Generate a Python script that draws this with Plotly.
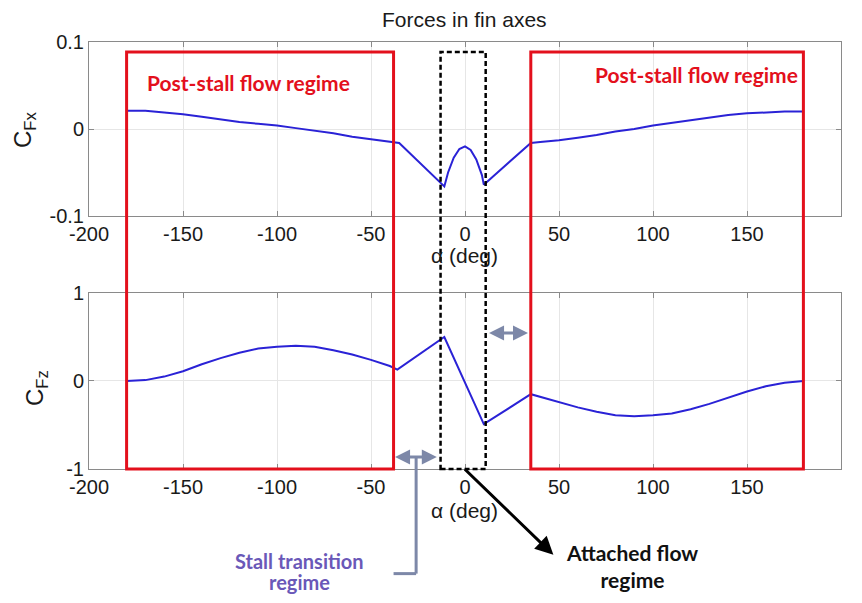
import plotly.graph_objects as go

# ---- data ----
alpha_fx = [-180, -170, -160, -150, -140, -130, -120, -110, -100, -90, -80, -70, -60, -50, -40, -35,
            -11, -9, -6, -3, 0, 3, 6, 9, 10,
            35, 40, 50, 60, 70, 80, 90, 100, 110, 120, 130, 140, 150, 160, 170, 180]
cfx = [0.021, 0.021, 0.019, 0.017, 0.014, 0.011, 0.008, 0.006, 0.004, 0.001, -0.002, -0.005, -0.009, -0.012, -0.015, -0.016,
       -0.066, -0.050, -0.033, -0.023, -0.020, -0.024, -0.035, -0.053, -0.064,
       -0.016, -0.015, -0.013, -0.010, -0.007, -0.003, 0.000, 0.004, 0.007, 0.010, 0.013, 0.016, 0.018, 0.019, 0.020, 0.020]

alpha_fz = [-180, -170, -160, -150, -140, -130, -120, -110, -100, -90, -80, -70, -60, -50, -40, -36,
            -11, 10,
            35, 40, 50, 60, 70, 80, 90, 100, 110, 120, 130, 140, 150, 160, 170, 180]
cfz = [0.0, 0.01, 0.05, 0.11, 0.19, 0.26, 0.32, 0.37, 0.39, 0.40, 0.39, 0.35, 0.30, 0.24, 0.17, 0.13,
       0.50, -0.49,
       -0.15, -0.18, -0.24, -0.30, -0.35, -0.39, -0.40, -0.39, -0.37, -0.32, -0.26, -0.19, -0.12, -0.06, -0.02, 0.0]

x_ticks = [-200, -150, -100, -50, 0, 50, 100, 150, 200]
x_tick_text = ["-200", "-150", "-100", "-50", "0", "50", "100", "150", "200"]
fx_ticks = [-0.1, 0, 0.1]
fx_tick_text = ["-0.1", "0", "0.1"]
fz_ticks = [-1, 0, 1]
fz_tick_text = ["-1", "0", "1"]

# regime boundaries (deg)
post_stall_left = (-180, -38)
post_stall_right = (35, 180)
attached = (-13, 11)

LINE_BLUE = "#2a22d6"
RED = "#e3101c"
ARROW_GRAY = "#7d88a8"
SANS = "Liberation Sans, Arial, sans-serif"
CAL = "Lato, Open Sans, sans-serif"
AX_FONT = dict(family=SANS, size=20, color="#1a1a1a")

fig = go.Figure()
fig.add_trace(go.Scatter(x=alpha_fx, y=cfx, mode="lines", line=dict(color=LINE_BLUE, width=2),
                         xaxis="x", yaxis="y", showlegend=False))
fig.add_trace(go.Scatter(x=alpha_fz, y=cfz, mode="lines", line=dict(color=LINE_BLUE, width=2),
                         xaxis="x2", yaxis="y2", showlegend=False))

axis_common = dict(showline=True, linecolor="#8a8a8a", linewidth=1, mirror="ticks",
                   ticks="inside", ticklen=5, tickcolor="#8a8a8a",
                   showgrid=True, gridcolor="#e6e6e6", gridwidth=1, zeroline=False,
                   tickfont=AX_FONT)

# the page body keeps its 8px margin: size the figure so the plot area lands where the reference has it
fig.update_layout(
    width=846, height=587,
    margin=dict(l=81, r=13, t=34, b=126),
    paper_bgcolor="white", plot_bgcolor="white",
    xaxis=dict(domain=[0, 1], anchor="y", range=[-200, 200], tickvals=x_ticks, ticktext=x_tick_text, **axis_common),
    yaxis=dict(domain=[0.5925, 1], anchor="x", range=[-0.1, 0.1], tickvals=fx_ticks, ticktext=fx_tick_text, **axis_common),
    xaxis2=dict(domain=[0, 1], anchor="y2", range=[-200, 200], tickvals=x_ticks, ticktext=x_tick_text, **axis_common),
    yaxis2=dict(domain=[0, 0.4122], anchor="x2", range=[-1, 1], tickvals=fz_ticks, ticktext=fz_tick_text, **axis_common),
)

shapes = []
box_top = 0.9766
for x0, x1 in (post_stall_left, post_stall_right):
    shapes.append(dict(type="rect", xref="x", yref="paper", x0=x0, x1=x1, y0=0, y1=box_top,
                       line=dict(color=RED, width=3)))
shapes.append(dict(type="rect", xref="x", yref="paper", x0=attached[0], x1=attached[1], y0=0, y1=box_top,
                   line=dict(color="black", width=2.5, dash="5px,3px")))
# bracket from stall arrow down to label
shapes.append(dict(type="line", xref="x2", yref="paper", x0=-26, x1=-26, y0=0.026, y1=-0.245,
                   line=dict(color=ARROW_GRAY, width=3)))
shapes.append(dict(type="line", xref="x2", yref="paper", x0=-26, x1=-38, y0=-0.245, y1=-0.245,
                   line=dict(color=ARROW_GRAY, width=3)))
fig.update_layout(shapes=shapes)

ann = []
ann.append(dict(text="Forces in fin axes", xref="paper", yref="paper", x=0.4987, y=1.0, yshift=23,
                xanchor="center", yanchor="middle",
                showarrow=False, font=dict(family=SANS, size=21, color="#1a1a1a")))
for yv, sh in ((0.5925, -39), (0.0, -41)):
    ann.append(dict(text="α (deg)", xref="paper", yref="paper", x=0.4987, y=yv, yshift=sh,
                    xanchor="center", yanchor="middle",
                    showarrow=False, font=dict(family=SANS, size=21, color="#1a1a1a")))
ann.append(dict(text="C<sub>Fx</sub>", xref="paper", yref="paper", x=-0.085, y=0.794, textangle=-90,
                xanchor="center", yanchor="middle",
                showarrow=False, font=dict(family=SANS, size=24, color="#1a1a1a")))
ann.append(dict(text="C<sub>Fz</sub>", xref="paper", yref="paper", x=-0.069, y=0.19, textangle=-90,
                xanchor="center", yanchor="middle",
                showarrow=False, font=dict(family=SANS, size=24, color="#1a1a1a")))
red_font = dict(family=CAL, size=21, color=RED)
ann.append(dict(text="<b>Post-stall flow regime</b>", xref="x", yref="paper", x=-115, y=0.906,
                xanchor="center", yanchor="middle", showarrow=False, font=red_font))
ann.append(dict(text="<b>Post-stall flow regime</b>", xref="x", yref="paper", x=123, y=0.923,
                xanchor="center", yanchor="middle", showarrow=False, font=red_font))
# double arrows
ann.append(dict(text="", xref="x2", yref="y2", axref="x2", ayref="y2", x=-15, y=-0.864, ax=-38, ay=-0.864,
                showarrow=True, arrowhead=2, startarrowhead=2, arrowside="end+start",
                arrowsize=1, arrowwidth=3, arrowcolor=ARROW_GRAY))
ann.append(dict(text="", xref="x2", yref="y2", axref="x2", ayref="y2", x=33.5, y=0.545, ax=12, ay=0.545,
                showarrow=True, arrowhead=2, startarrowhead=2, arrowside="end+start",
                arrowsize=1, arrowwidth=3, arrowcolor=ARROW_GRAY))
# attached flow arrow
ann.append(dict(text="", xref="x2", yref="paper", x=47, y=-0.201, ax=-90, ay=-87,
                showarrow=True, arrowhead=2, arrowsize=1.2, arrowwidth=3, arrowcolor="black"))
stall_font = dict(family=CAL, size=20, color="#6a58b8")
ann.append(dict(text="<b>Stall transition</b>", xref="x2", yref="paper", x=-88, y=-0.2155,
                xanchor="center", yanchor="middle", showarrow=False, font=stall_font))
ann.append(dict(text="<b>regime</b>", xref="x2", yref="paper", x=-88, y=-0.2646,
                xanchor="center", yanchor="middle", showarrow=False, font=stall_font))
ann.append(dict(text="<b>Attached flow<br>regime</b>", xref="x2", yref="paper", x=89, y=-0.227,
                xanchor="center", yanchor="middle",
                showarrow=False, font=dict(family=CAL, size=21, color="#111111")))
fig.update_layout(annotations=ann)

fig.write_html("out.html")
